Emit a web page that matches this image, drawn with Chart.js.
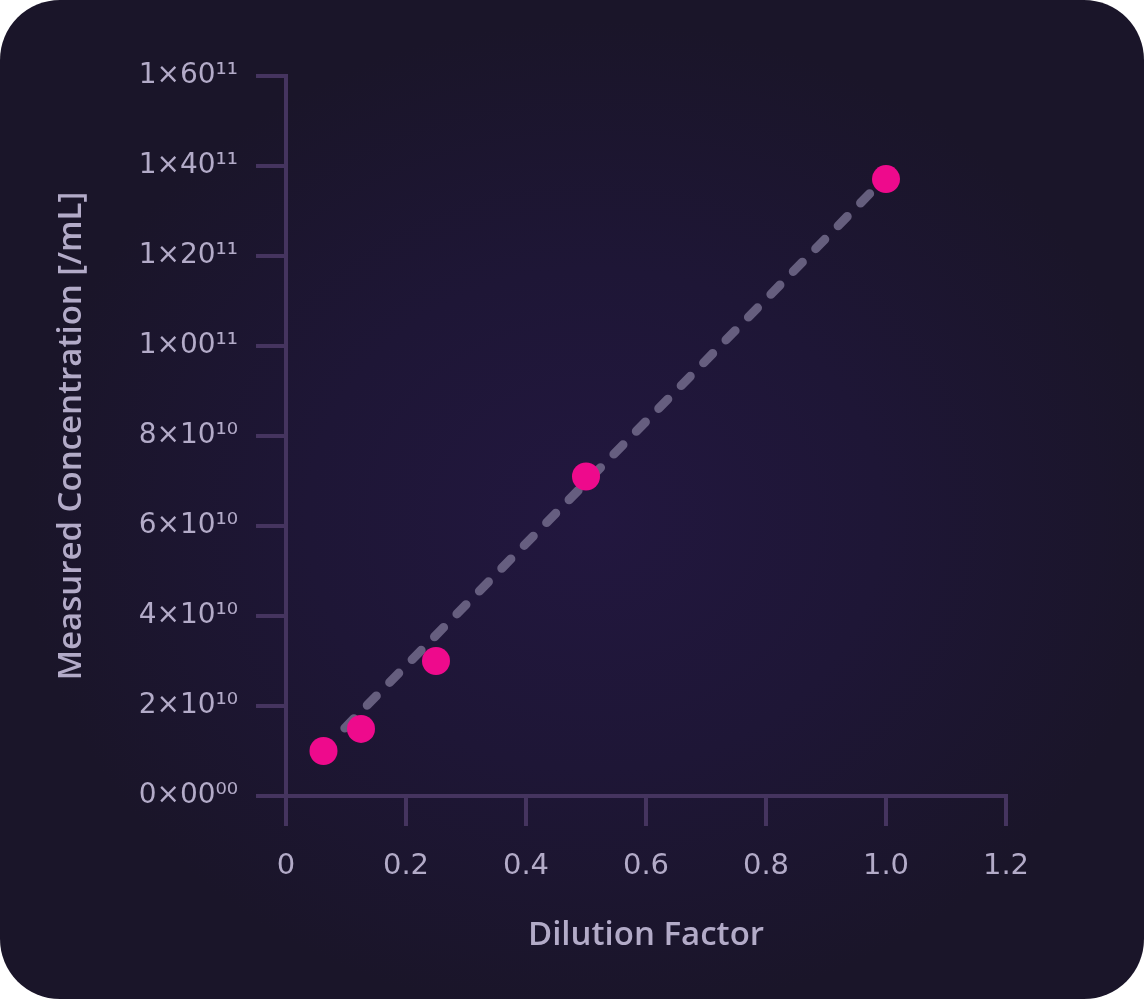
<!DOCTYPE html>
<html>
<head>
<meta charset="utf-8">
<script src="https://cdn.jsdelivr.net/npm/chart.js@4"></script>
<style>
  html, body { margin: 0; padding: 0; background: #ffffff; }
  #card {
    width: 1144px; height: 999px; border-radius: 60px; overflow: hidden;
    background: radial-gradient(ellipse 50% 50% at 52% 52%, #22173f 0%, #1e1636 50%, #1a1529 100%);
  }
  canvas { display: block; }
</style>
</head>
<body>
<div id="card"><canvas id="chart" width="1144" height="999"></canvas></div>
<script>
// dilution series
const dilution = [0.0625, 0.125, 0.25, 0.5, 1.0];
const concentration = [1.0e10, 1.49e10, 3.0e10, 7.1e10, 1.371e11];

// fitted line endpoints (as drawn)
const fitX = [0.098, 0.982];
const fitY = [1.51e10, 1.351e11];

const xTickLabels = ['0', '0.2', '0.4', '0.6', '0.8', '1.0', '1.2'];
const yTickLabels = ['0×00⁰⁰', '2×10¹⁰', '4×10¹⁰', '6×10¹⁰', '8×10¹⁰', '1×00¹¹', '1×20¹¹', '1×40¹¹', '1×60¹¹'];

const axisColor = '#45345f';
const textColor = '#b3abc8';
const fontFamily = '"DejaVu Sans", "Noto Sans", sans-serif';
const titleFamily = '"Open Sans", "DejaVu Sans", sans-serif';

const ctx = document.getElementById('chart').getContext('2d');
new Chart(ctx, {
    type: 'scatter',
    data: {
        datasets: [
            {
                type: 'line',
                data: fitX.map((x, i) => ({ x: x, y: fitY[i] })),
                borderColor: 'rgba(120, 112, 145, 0.8)',
                borderWidth: 9,
                borderDash: [13, 19],
                borderCapStyle: 'round',
                pointRadius: 0,
                fill: false,
                order: 2
            },
            {
                data: dilution.map((x, i) => ({ x: x, y: concentration[i] })),
                backgroundColor: '#ee0a8c',
                borderWidth: 0,
                pointRadius: 14,
                order: 1
            }
        ]
    },
    options: {
        responsive: false,
        animation: false,
        layout: { padding: { left: 0, top: 76, right: 138, bottom: 0 } },
        plugins: { legend: { display: false }, tooltip: { enabled: false } },
        scales: {
            x: {
                type: 'linear',
                min: 0, max: 1.2,
                afterFit: s => { s.height = 999 - 796; },
                ticks: {
                    stepSize: 0.2,
                    color: textColor,
                    padding: 23,
                    font: { family: fontFamily, size: 29 },
                    callback: (v, i) => xTickLabels[i]
                },
                grid: { drawOnChartArea: false, color: axisColor, lineWidth: 4, tickLength: 30 },
                border: { color: axisColor, width: 4 },
                title: {
                    display: true, text: 'Dilution Factor', color: textColor,
                    font: { family: titleFamily, size: 33, weight: '600' },
                    padding: { top: 4, bottom: 44 }
                }
            },
            y: {
                min: 0, max: 1.6e11,
                afterFit: s => { s.width = 286; },
                ticks: {
                    stepSize: 2e10,
                    color: textColor,
                    padding: 18,
                    font: { family: fontFamily, size: 28 },
                    callback: (v, i) => yTickLabels[i]
                },
                grid: { drawOnChartArea: false, color: axisColor, lineWidth: 4, tickLength: 30 },
                border: { color: axisColor, width: 4 },
                title: {
                    display: true, text: 'Measured Concentration [/mL]', color: textColor,
                    font: { family: titleFamily, size: 33, weight: '600' },
                    padding: { top: 52, bottom: 4 }
                }
            }
        }
    }
});
</script>
</body>
</html>
